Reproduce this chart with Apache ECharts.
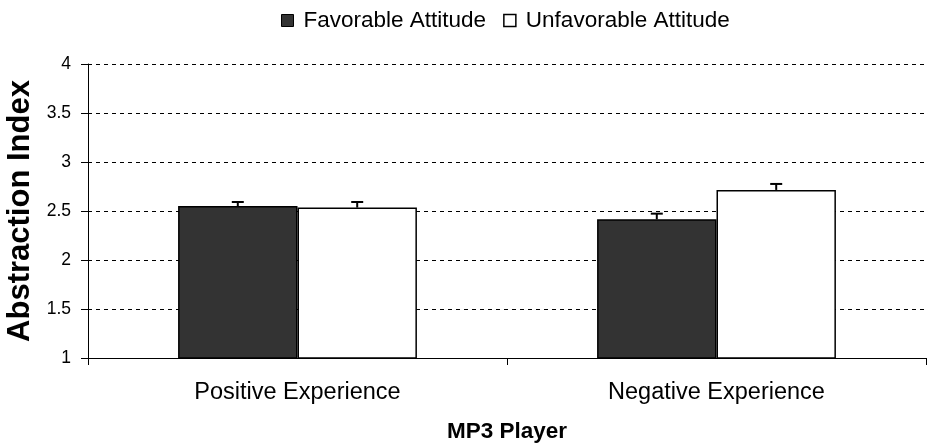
<!DOCTYPE html>
<html>
<head>
<meta charset="utf-8">
<script src="https://cdn.jsdelivr.net/npm/echarts@6/dist/echarts.min.js"></script>
<style>
  html, body { margin: 0; padding: 0; background: #fff; }
  #chart { width: 928px; height: 446px; }
</style>
</head>
<body>
<div id="chart"></div>
<script>
// Mean abstraction index by experience condition and attitude
const categories = ['Positive Experience', 'Negative Experience'];
const favorable = [2.55, 2.415];
const unfavorable = [2.535, 2.715];
// Upper error (standard error) for each bar
const favorableErr = [0.042, 0.058];
const unfavorableErr = [0.057, 0.061];
const yTicks = { min: 1, max: 4, step: 0.5 };

const FONT = 'Liberation Sans, Arial, sans-serif';
const CATEGORY_GAP = 0.43;

function errorSeries(name, values, errors, side) {
  return {
    name: name + ' error',
    type: 'custom',
    z: 5,
    data: values.map((v, i) => [i, v, v + errors[i]]),
    renderItem: function (params, api) {
      const catW = api.size([1, 0])[0];
      const barW = catW * (1 - CATEGORY_GAP) / 2;
      const base = api.coord([api.value(0), api.value(1)]);
      const top = api.coord([api.value(0), api.value(2)]);
      const x = base[0] + side * barW / 2;
      const cap = 6;
      const style = { stroke: '#000', lineWidth: 2 };
      return {
        type: 'group',
        children: [
          { type: 'line', shape: { x1: x, y1: base[1], x2: x, y2: top[1] }, style: style },
          { type: 'line', shape: { x1: x - cap, y1: top[1], x2: x + cap, y2: top[1] }, style: style }
        ]
      };
    }
  };
}

const chart = echarts.init(document.getElementById('chart'), null, { renderer: 'canvas' });
chart.setOption({
  animation: false,
  backgroundColor: '#fff',
  textStyle: { fontFamily: FONT, color: '#000' },
  legend: {
    top: 4,
    left: 276,
    itemWidth: 12,
    itemHeight: 12,
    itemGap: 17,
    icon: 'rect',
    textStyle: { fontFamily: FONT, fontSize: 22.5, color: '#000', padding: [0, 0, 0, 5] },
    data: [
      { name: 'Favorable Attitude', itemStyle: { color: '#333333', borderColor: '#000', borderWidth: 1 } },
      { name: 'Unfavorable Attitude', itemStyle: { color: '#ffffff', borderColor: '#000', borderWidth: 1.5 } }
    ]
  },
  grid: { left: 88, right: 2, top: 64, bottom: 88, containLabel: false, outerBoundsMode: 'none' },
  xAxis: {
    type: 'category',
    data: categories,
    name: 'MP3 Player',
    nameLocation: 'middle',
    nameGap: 62,
    nameTextStyle: { fontFamily: FONT, fontSize: 22.5, fontWeight: 'bold', color: '#000' },
    axisLine: { lineStyle: { color: '#000', width: 1 } },
    axisTick: { show: true, length: 7, lineStyle: { color: '#000' } },
    axisLabel: { fontFamily: FONT, fontSize: 23.5, color: '#000', margin: 23 },
    splitLine: { show: false }
  },
  yAxis: {
    type: 'value',
    min: yTicks.min,
    max: yTicks.max,
    interval: yTicks.step,
    name: 'Abstraction Index',
    nameLocation: 'middle',
    nameGap: 50,
    nameTextStyle: { fontFamily: FONT, fontSize: 31, fontWeight: 'bold', color: '#000' },
    axisLine: { show: true, lineStyle: { color: '#000', width: 1 } },
    axisTick: { show: true, length: 7, lineStyle: { color: '#000' } },
    axisLabel: { fontFamily: FONT, fontSize: 17.5, color: '#000', margin: 17 },
    splitLine: { show: true, lineStyle: { color: '#000', type: [4, 4], width: 1 } }
  },
  series: [
    {
      name: 'Favorable Attitude',
      type: 'bar',
      data: favorable,
      barGap: '0%',
      barCategoryGap: (CATEGORY_GAP * 100) + '%',
      itemStyle: { color: '#333333', borderColor: '#000', borderWidth: 1.5 }
    },
    {
      name: 'Unfavorable Attitude',
      type: 'bar',
      data: unfavorable,
      barGap: '0%',
      barCategoryGap: (CATEGORY_GAP * 100) + '%',
      itemStyle: { color: '#ffffff', borderColor: '#000', borderWidth: 1.5 }
    },
    errorSeries('Favorable Attitude', favorable, favorableErr, -1),
    errorSeries('Unfavorable Attitude', unfavorable, unfavorableErr, 1)
  ]
});
</script>
</body>
</html>
